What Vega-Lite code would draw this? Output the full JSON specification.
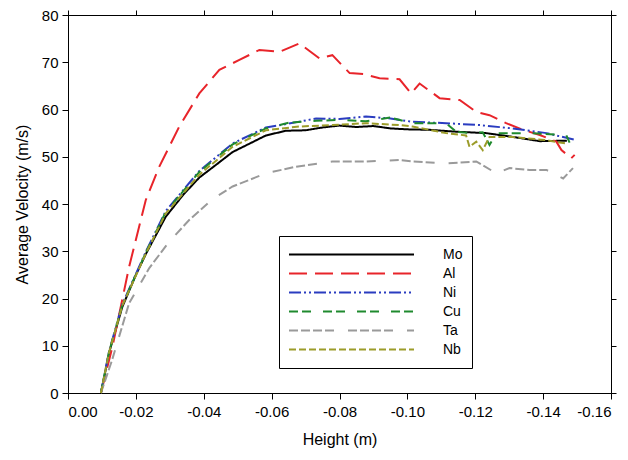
{
  "$schema": "https://vega.github.io/schema/vega-lite/v6.json",
  "width": 543,
  "height": 378,
  "autosize": {"type": "none"},
  "padding": {"left": 68, "top": 15, "right": 17, "bottom": 67},
  "background": "white",
  "config": {
    "font": "Liberation Sans",
    "view": {"stroke": "black", "strokeWidth": 1},
    "axis": {"domainColor": "black", "tickColor": "black", "labelColor": "black", "titleColor": "black", "grid": false, "labelFontSize": 15, "titleFontSize": 16, "titleFontWeight": "normal", "tickSize": 6, "labelFont": "Liberation Sans", "titleFont": "Liberation Sans"}
  },
  "data": {"values": [
    {"m":"Mo","h":-0.0097,"v":0},{"m":"Mo","h":-0.0121,"v":8.5},{"m":"Mo","h":-0.016,"v":18.2},{"m":"Mo","h":-0.020,"v":25},{"m":"Mo","h":-0.023,"v":29.5},{"m":"Mo","h":-0.0288,"v":37.3},{"m":"Mo","h":-0.034,"v":42},{"m":"Mo","h":-0.0387,"v":45.6},{"m":"Mo","h":-0.044,"v":48.5},{"m":"Mo","h":-0.0485,"v":51},{"m":"Mo","h":-0.053,"v":52.6},{"m":"Mo","h":-0.0583,"v":54.5},{"m":"Mo","h":-0.0642,"v":55.5},{"m":"Mo","h":-0.070,"v":55.6},{"m":"Mo","h":-0.075,"v":56.2},{"m":"Mo","h":-0.080,"v":56.6},{"m":"Mo","h":-0.085,"v":56.3},{"m":"Mo","h":-0.090,"v":56.5},{"m":"Mo","h":-0.095,"v":56.0},{"m":"Mo","h":-0.100,"v":55.8},{"m":"Mo","h":-0.1065,"v":55.7},{"m":"Mo","h":-0.1144,"v":55.3},{"m":"Mo","h":-0.1232,"v":55.0},{"m":"Mo","h":-0.1311,"v":54.2},{"m":"Mo","h":-0.139,"v":53.3},{"m":"Mo","h":-0.147,"v":53.4},
    {"m":"Al","h":-0.0097,"v":0},{"m":"Al","h":-0.0131,"v":9.8},{"m":"Al","h":-0.018,"v":26.7},{"m":"Al","h":-0.0229,"v":40.8},{"m":"Al","h":-0.0269,"v":47.9},{"m":"Al","h":-0.0328,"v":56.4},{"m":"Al","h":-0.0387,"v":63.4},{"m":"Al","h":-0.0446,"v":68.4},{"m":"Al","h":-0.0505,"v":70.5},{"m":"Al","h":-0.0564,"v":72.6},{"m":"Al","h":-0.0623,"v":72.2},{"m":"Al","h":-0.0682,"v":74.0},{"m":"Al","h":-0.0741,"v":70.8},{"m":"Al","h":-0.0779,"v":71.5},{"m":"Al","h":-0.083,"v":67.7},{"m":"Al","h":-0.087,"v":67.5},{"m":"Al","h":-0.0918,"v":66.6},{"m":"Al","h":-0.0977,"v":66.4},{"m":"Al","h":-0.1011,"v":63.4},{"m":"Al","h":-0.1036,"v":65.5},{"m":"Al","h":-0.1095,"v":62.4},{"m":"Al","h":-0.1154,"v":62.0},{"m":"Al","h":-0.1203,"v":59.5},{"m":"Al","h":-0.1242,"v":58.8},{"m":"Al","h":-0.1291,"v":57.1},{"m":"Al","h":-0.1341,"v":55.7},{"m":"Al","h":-0.139,"v":54.6},{"m":"Al","h":-0.1439,"v":53.2},{"m":"Al","h":-0.1454,"v":51.4},{"m":"Al","h":-0.1483,"v":49.7},{"m":"Al","h":-0.1493,"v":50.4},
    {"m":"Ni","h":-0.0097,"v":0},{"m":"Ni","h":-0.0121,"v":8.8},{"m":"Ni","h":-0.016,"v":18.8},{"m":"Ni","h":-0.023,"v":30.0},{"m":"Ni","h":-0.0288,"v":38.5},{"m":"Ni","h":-0.0387,"v":47.0},{"m":"Ni","h":-0.0485,"v":52.8},{"m":"Ni","h":-0.0583,"v":56.2},{"m":"Ni","h":-0.065,"v":57.0},{"m":"Ni","h":-0.0731,"v":58.1},{"m":"Ni","h":-0.080,"v":58.0},{"m":"Ni","h":-0.0878,"v":58.5},{"m":"Ni","h":-0.095,"v":58.1},{"m":"Ni","h":-0.1015,"v":57.4},{"m":"Ni","h":-0.1114,"v":57.1},{"m":"Ni","h":-0.1213,"v":56.7},{"m":"Ni","h":-0.131,"v":56.0},{"m":"Ni","h":-0.141,"v":55.0},{"m":"Ni","h":-0.1498,"v":53.5},
    {"m":"Cu","h":-0.0097,"v":0},{"m":"Cu","h":-0.0121,"v":8.7},{"m":"Cu","h":-0.016,"v":18.6},{"m":"Cu","h":-0.023,"v":29.8},{"m":"Cu","h":-0.0288,"v":38.3},{"m":"Cu","h":-0.0387,"v":46.8},{"m":"Cu","h":-0.0485,"v":52.6},{"m":"Cu","h":-0.0583,"v":56.0},{"m":"Cu","h":-0.065,"v":57.2},{"m":"Cu","h":-0.0731,"v":57.6},{"m":"Cu","h":-0.080,"v":57.8},{"m":"Cu","h":-0.0878,"v":57.5},{"m":"Cu","h":-0.095,"v":58.3},{"m":"Cu","h":-0.1015,"v":57.1},{"m":"Cu","h":-0.1114,"v":57.1},{"m":"Cu","h":-0.1144,"v":55.3},{"m":"Cu","h":-0.119,"v":55.0},{"m":"Cu","h":-0.1222,"v":55.2},{"m":"Cu","h":-0.1242,"v":52.5},{"m":"Cu","h":-0.1262,"v":55.0},{"m":"Cu","h":-0.136,"v":55.0},{"m":"Cu","h":-0.1468,"v":54.6},{"m":"Cu","h":-0.1478,"v":53.0},
    {"m":"Ta","h":-0.0097,"v":0},{"m":"Ta","h":-0.013,"v":7},{"m":"Ta","h":-0.018,"v":19},{"m":"Ta","h":-0.024,"v":26.5},{"m":"Ta","h":-0.0298,"v":32},{"m":"Ta","h":-0.0357,"v":36.6},{"m":"Ta","h":-0.0425,"v":41.0},{"m":"Ta","h":-0.0485,"v":43.7},{"m":"Ta","h":-0.0583,"v":46.5},{"m":"Ta","h":-0.0672,"v":47.9},{"m":"Ta","h":-0.0779,"v":49.0},{"m":"Ta","h":-0.0878,"v":49.0},{"m":"Ta","h":-0.0977,"v":49.3},{"m":"Ta","h":-0.1015,"v":49.0},{"m":"Ta","h":-0.1114,"v":48.6},{"m":"Ta","h":-0.1203,"v":49.0},{"m":"Ta","h":-0.1262,"v":46.5},{"m":"Ta","h":-0.1301,"v":47.6},{"m":"Ta","h":-0.136,"v":47.2},{"m":"Ta","h":-0.141,"v":47.2},{"m":"Ta","h":-0.1459,"v":45.4},{"m":"Ta","h":-0.1488,"v":47.6},
    {"m":"Nb","h":-0.0097,"v":0},{"m":"Nb","h":-0.0121,"v":8.6},{"m":"Nb","h":-0.016,"v":18.5},{"m":"Nb","h":-0.023,"v":29.6},{"m":"Nb","h":-0.0288,"v":38.0},{"m":"Nb","h":-0.0387,"v":46.2},{"m":"Nb","h":-0.0485,"v":52.1},{"m":"Nb","h":-0.0583,"v":55.6},{"m":"Nb","h":-0.0682,"v":56.4},{"m":"Nb","h":-0.078,"v":56.7},{"m":"Nb","h":-0.0878,"v":57.1},{"m":"Nb","h":-0.0977,"v":56.7},{"m":"Nb","h":-0.1015,"v":56.4},{"m":"Nb","h":-0.1114,"v":55.0},{"m":"Nb","h":-0.1173,"v":54.5},{"m":"Nb","h":-0.1183,"v":52.1},{"m":"Nb","h":-0.1203,"v":53.2},{"m":"Nb","h":-0.1222,"v":51.4},{"m":"Nb","h":-0.1242,"v":54.2},{"m":"Nb","h":-0.131,"v":54.2},{"m":"Nb","h":-0.141,"v":53.5},{"m":"Nb","h":-0.1468,"v":52.8}
  ]},
  "layer": [
    {
      "mark": {"type": "line", "strokeWidth": 2},
      "encoding": {
        "x": {"field": "h", "type": "quantitative", "title": "Height (m)",
          "scale": {"domain": [-0.16, 0], "reverse": true, "nice": false, "zero": false},
          "axis": {"values": [0, -0.02, -0.04, -0.06, -0.08, -0.1, -0.12, -0.14, -0.16], "labelExpr": "(datum.value < 0 ? '-' : '') + format(abs(datum.value), '.2f')", "labelPadding": 5, "titlePadding": 12}},
        "y": {"field": "v", "type": "quantitative", "title": "Average Velocity (m/s)",
          "scale": {"domain": [0, 80], "nice": false},
          "axis": {"values": [0,10,20,30,40,50,60,70,80], "labelPadding": 4, "titlePadding": 11}},
        "color": {"field": "m", "type": "nominal",
          "scale": {"domain": ["Mo","Al","Ni","Cu","Ta","Nb"], "range": ["#000000","#e8242a","#2a3cc0","#1f8a2e","#9a9a9a","#9c9c2a"]},
          "legend": {"title": null, "orient": "none", "legendX": 211, "legendY": 221, "direction": "vertical",
            "symbolType": "stroke", "symbolSize": 15625, "symbolStrokeWidth": 2, "clipHeight": 19, "rowPadding": 0,
            "labelFontSize": 14, "labelColor": "black", "labelOffset": 28, "labelExpr": "datum.label + '\u00a0\u00a0\u00a0\u00a0\u00a0\u00a0\u00a0\u00a0\u00a0\u00a0\u00a0\u00a0'",
            "strokeColor": "black", "fillColor": "white", "padding": 9}},
        "strokeDash": {"field": "m", "type": "nominal",
          "scale": {"domain": ["Mo","Al","Ni","Cu","Ta","Nb"], "range": [[1,0],[18,8],[12,3,2,3,2,3],[9,4,9,12],[9,3,9,3,9,3,9,14],[7,3]]}}
      }
    },
    {
      "mark": {"type": "point", "opacity": 0},
      "encoding": {
        "x": {"field": "h", "type": "quantitative",
          "axis": {"orient": "top", "values": [0, -0.02, -0.04, -0.06, -0.08, -0.1, -0.12, -0.14, -0.16], "labels": false, "title": null, "tickSize": 5}},
        "y": {"field": "v", "type": "quantitative",
          "axis": {"orient": "right", "values": [0,10,20,30,40,50,60,70,80], "labels": false, "title": null, "tickSize": 5}}
      }
    }
  ],
  "resolve": {"axis": {"x": "independent", "y": "independent"}}
}
